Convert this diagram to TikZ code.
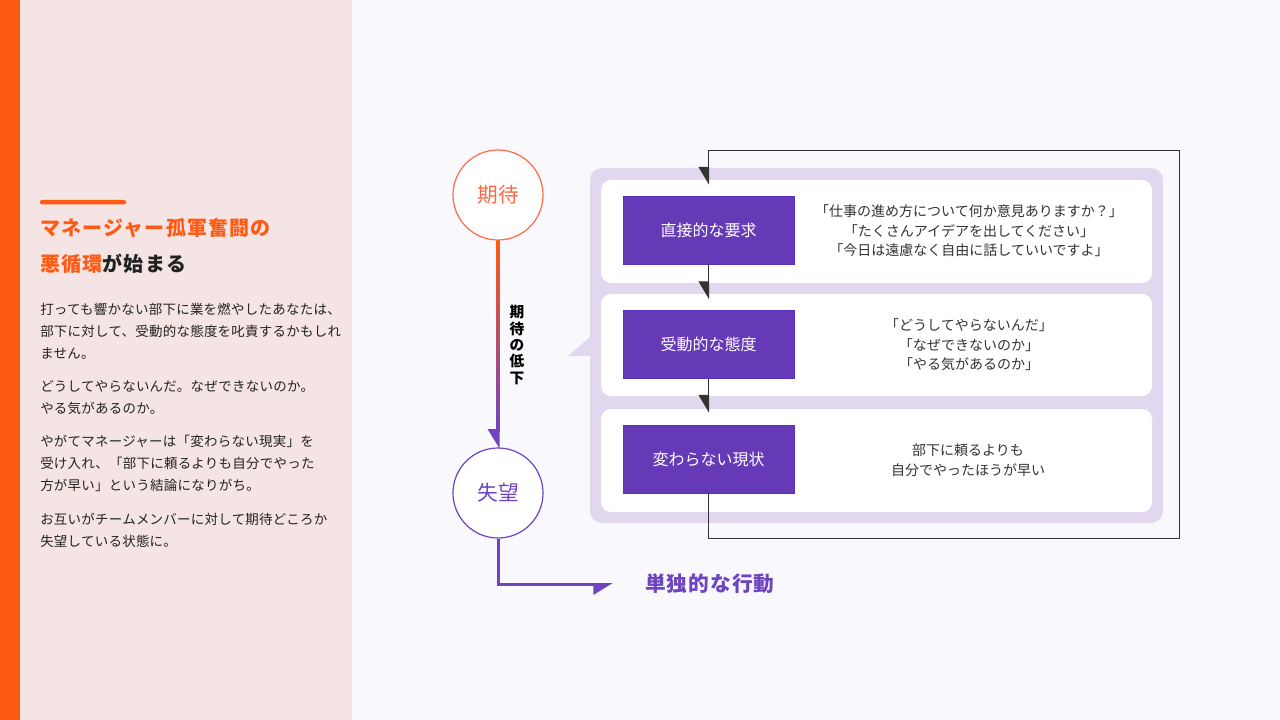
\documentclass[tikz,border=0pt]{standalone}
\usepackage{fontspec}
\setmainfont{Noto Sans CJK JP}
\usetikzlibrary{arrows.meta, calc}
\usetikzlibrary{positioning}
\usepackage{xcolor}

\definecolor{accent}{HTML}{FF5A14}
\definecolor{sidepink}{HTML}{F5E4E4}
\definecolor{bgright}{HTML}{F9F8FD}
\definecolor{panel}{HTML}{E1D8F0}
\definecolor{boxpurple}{HTML}{6639B7}
\definecolor{hopeorange}{HTML}{FF6B45}
\definecolor{losspurple}{HTML}{6E45BE}
\definecolor{inktext}{HTML}{222222}
\definecolor{quotetext}{HTML}{333333}

\tikzset{
  stepbox/.style={fill=boxpurple, draw=boxpurple!85!blue, line width=0.5pt, text=white,
    minimum width=128.25pt, minimum height=51pt, inner sep=0pt,
    font=\fontsize{12}{14}\selectfont},
  quote/.style={align=center, text=quotetext, inner sep=0pt, font=\fontsize{10.5}{14.6}\selectfont},
  stateball/.style={circle, fill=white, line width=0.9pt, minimum size=67.5pt, inner sep=0pt,
    font=\fontsize{15.5}{18}\selectfont},
  bodytext/.style={anchor=north west, align=left, text=inktext, inner sep=0pt,
    font=\fontsize{10.1}{16.5}\selectfont\addfontfeature{LetterSpace=2}},
  halfhead/.style={-{Triangle[harpoon, swap, length=12.75pt, width=15pt]}},
  flowline/.style={halfhead, draw=quotetext, line width=0.75pt, shorten >=-0.75pt}
}

\begin{document}
\begin{tikzpicture}[x=0.75pt, y=-0.75pt]
		\useasboundingbox (0,0) rectangle (1280,720);
		\fill[bgright] (0,0) rectangle (1280,720);
		\fill[sidepink] (20,0) rectangle (352,720);
		\fill[accent] (0,0) rectangle (20,720);
		\begin{scope}
			\fill[accent, rounded corners=1.5pt] (40,200) rectangle (126,204.5);
			\node[anchor=west, inner sep=0pt, text=accent, font=\fontsize{15}{18}\bfseries\addfontfeature{LetterSpace=6}] (title) at (40,228) {マネージャー孤軍奮闘の};
			\node[anchor=west, inner sep=0pt, text=inktext, font=\fontsize{15}{18}\bfseries\addfontfeature{LetterSpace=6}] (subtitle) at (40,264) {\textcolor{accent}{悪循環}が始まる};
			\node[bodytext] (para1) at (40,303) {打っても響かない部下に業を燃やしたあなたは、\\部下に対して、受動的な態度を叱責するかもしれ\\ません。};
			\node[bodytext] (para2) at (40,380) {どうしてやらないんだ。なぜできないのか。\\やる気があるのか。};
			\node[bodytext] (para3) at (40,435) {やがてマネージャーは「変わらない現実」を\\受け入れ、「部下に頼るよりも自分でやった\\方が早い」という結論になりがち。};
			\node[bodytext] (para4) at (40,513) {お互いがチームメンバーに対して期待どころか\\失望している状態に。};
		\end{scope}
		\begin{scope}
			\fill[panel, rounded corners=9pt] (590,168) rectangle (1163,523);
			\fill[panel] (590,337) -- (568,356) -- (590,356) -- cycle;
			\foreach \top/\bot in {180/283, 294/396, 409/512}
				\fill[white, rounded corners=7.5pt] (601,\top) rectangle (1152,\bot);
			\node[stepbox] (ask) at (708.5,230) {直接的な要求};
			\node[stepbox] (passive) at (708.5,344.5) {受動的な態度};
			\node[stepbox] (status) at (708.5,459) {変わらない現状};
			\node[quote] (askq) at (969,231) {「仕事の進め方について何か意見ありますか？」\\「たくさんアイデアを出してください」\\「今日は遠慮なく自由に話していいですよ」};
			\node[quote] (passiveq) at (969,345) {「どうしてやらないんだ」\\「なぜできないのか」\\「やる気があるのか」};
			\node[quote] (statusq) at (968,460) {部下に頼るよりも\\自分でやったほうが早い};
			\coordinate (loopbr) at (1179,538);
			\coordinate (looptr) at (1179,150.5);
			\draw[flowline, shorten >=8.25pt] (status.south) |- (loopbr) -- (looptr) -| (ask.north);
			\draw[flowline, shorten >=8.25pt] (ask) -- (passive);
			\draw[flowline, shorten >=9pt] (passive) -- (status);
		\end{scope}
		\begin{scope}
			\node[stateball, draw=hopeorange, text=hopeorange] (hope) at (498,195) {期待};
			\node[stateball, draw=losspurple, text=losspurple] (loss) at (498,493) {失望};
			\shade[top color=accent, bottom color=losspurple] ($(hope.south)+(-1.6,0)$) rectangle ($(loss.north)+(1.6,-16)$);
			\draw[halfhead, draw=losspurple, line width=2.25pt, shorten >=-1pt] ($(loss.north)+(0,-17)$) -- (loss.north);
			\node[align=center, inner sep=0pt, text=black, font=\fontsize{11}{12.2}\bfseries] (drop) at (517,345) {期\\待\\の\\低\\下};
			\coordinate (solo) at (613,584.5);
			\draw[halfhead, draw=losspurple, line width=2.25pt] (loss.south) |- (solo);
			\node[anchor=west, inner sep=0pt, text=losspurple, font=\fontsize{15.5}{18}\bfseries\addfontfeature{LetterSpace=5}] (soloact) at (645,584) {単独的な行動};
		\end{scope}
	\end{tikzpicture}
\end{document}
